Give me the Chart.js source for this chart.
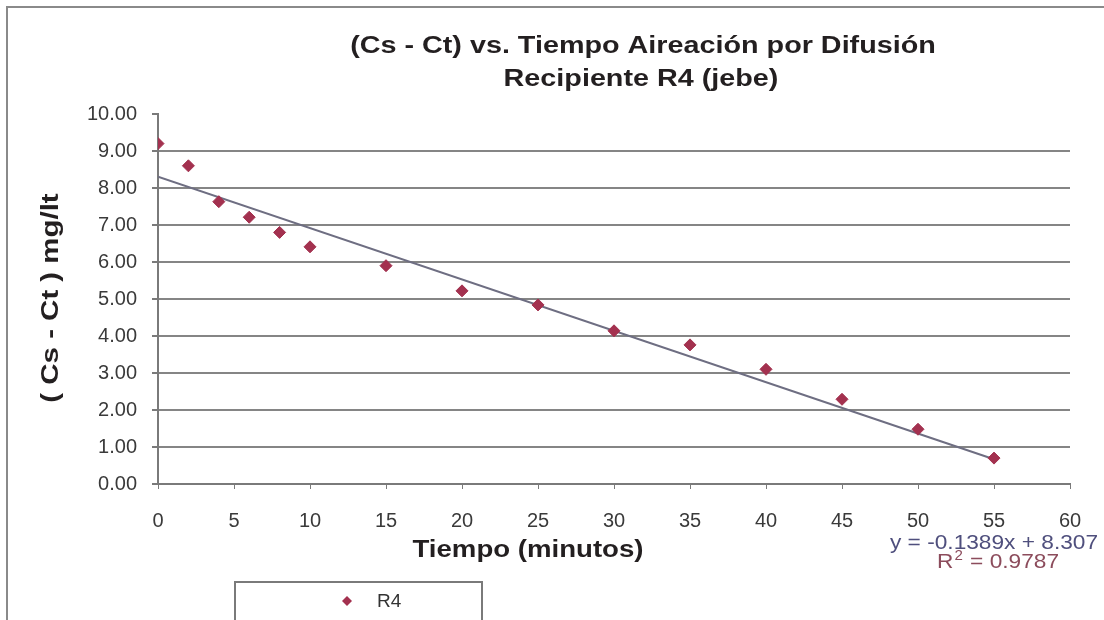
<!DOCTYPE html>
<html>
<head>
<meta charset="utf-8">
<title>(Cs - Ct) vs. Tiempo - R4</title>
<script src="https://cdn.jsdelivr.net/npm/chart.js@4/dist/chart.umd.min.js"></script>
<style>
  html, body { margin: 0; padding: 0; background: #ffffff; }
  #wrap { position: relative; width: 1104px; height: 620px; }
</style>
</head>
<body>
<div id="wrap"><canvas id="chart" width="1104" height="620"></canvas></div>
<script>
// Data
const tiempo = [0, 2, 4, 6, 8, 10, 15, 20, 25, 30, 35, 40, 45, 50, 55];
const csMenosCt = [9.20, 8.60, 7.63, 7.21, 6.80, 6.41, 5.90, 5.22, 4.84, 4.14, 3.76, 3.10, 2.29, 1.48, 0.70];

// Linear trendline endpoints (as drawn in the picture)
const trendX = [0, 55];
const trendY = [8.307, 0.668];

const titleLines = ['(Cs - Ct) vs. Tiempo Aireación por Difusión', 'Recipiente R4 (jebe)'];
const xTitle = 'Tiempo (minutos)';
const yTitle = '( Cs - Ct ) mg/lt';
const equationText = 'y = -0.1389x + 8.307';
const r2Text = '0.9787';
const seriesName = 'R4';

const FONT = '"Liberation Sans", Arial, Helvetica, sans-serif';
const pointColor = '#a3314f';

// the original lettering is a bit wider than Arial, so stretch it
function wideText(c, text, x, y, sx, angle) {
  c.save();
  c.translate(x, y);
  if (angle) c.rotate(angle);
  c.scale(sx, 1);
  c.fillText(text, 0, 0);
  c.restore();
}

// Draws the frame, titles, trendline label and the legend box
const decorPlugin = {
  id: 'decor',
  beforeDraw(chart) {
    const c = chart.ctx;
    c.save();
    c.fillStyle = '#ffffff';
    c.fillRect(0, 0, chart.width, chart.height);
    c.restore();
  },
  afterDraw(chart) {
    const c = chart.ctx;
    c.save();

    // outer chart frame
    c.strokeStyle = '#8a8a8a';
    c.lineWidth = 2;
    c.strokeRect(7, 7, 1110, 630);

    // title
    c.fillStyle = '#231f20';
    c.font = 'bold 23px ' + FONT;
    c.textAlign = 'center';
    c.textBaseline = 'middle';
    wideText(c, titleLines[0], 643, 47, 1.25);
    wideText(c, titleLines[1], 641, 80, 1.25);

    // x axis title
    wideText(c, xTitle, 528, 551, 1.2);

    // y axis title
    wideText(c, yTitle, 52, 298, 1.28, -Math.PI / 2);

    // trendline equation
    c.font = '21px ' + FONT;
    c.fillStyle = '#4f4f7d';
    wideText(c, equationText, 994, 543, 1.08);
    c.fillStyle = '#8c4c5c';
    c.textAlign = 'left';
    let x = 937;
    wideText(c, 'R', x, 562, 1.08);
    x += c.measureText('R').width * 1.08 + 1;
    c.font = '14px ' + FONT;
    wideText(c, '2', x, 556, 1.08);
    x += c.measureText('2').width * 1.08 + 1;
    c.font = '21px ' + FONT;
    wideText(c, ' = ' + r2Text, x, 562, 1.08);

    // legend box
    c.strokeStyle = '#7a7a7a';
    c.lineWidth = 2;
    c.strokeRect(235, 582, 247, 50);
    c.fillStyle = pointColor;
    c.beginPath();
    c.moveTo(347, 596);
    c.lineTo(352, 601);
    c.lineTo(347, 606);
    c.lineTo(342, 601);
    c.closePath();
    c.fill();
    c.fillStyle = '#333333';
    c.font = '19px ' + FONT;
    c.textAlign = 'left';
    c.fillText(seriesName, 377, 602);

    c.restore();
  }
};

const ctx = document.getElementById('chart');
new Chart(ctx, {
  type: 'scatter',
  data: {
    datasets: [
      {
        label: 'Tendencia',
        type: 'line',
        data: trendX.map((x, i) => ({ x: x, y: trendY[i] })),
        borderColor: '#6e6e82',
        borderWidth: 2,
        pointRadius: 0,
        fill: false,
        order: 1
      },
      {
        label: seriesName,
        data: tiempo.map((t, i) => ({ x: t, y: csMenosCt[i] })),
        backgroundColor: pointColor,
        borderColor: pointColor,
        pointStyle: 'rectRot',
        pointRadius: 6,
        pointHoverRadius: 6,
        order: 0
      }
    ]
  },
  options: {
    responsive: false,
    animation: false,
    events: [],
    layout: { padding: { left: 0, top: 114, right: 34, bottom: 0 } },
    plugins: {
      legend: { display: false },
      title: { display: false },
      tooltip: { enabled: false }
    },
    scales: {
      x: {
        type: 'linear',
        min: 0,
        max: 60,
        afterFit(scale) { scale.height = 136; },
        ticks: {
          stepSize: 5,
          color: '#3a3a3a',
          font: { family: FONT, size: 20 },
          padding: 20
        },
        grid: {
          drawOnChartArea: false,
          drawTicks: true,
          tickLength: 5,
          tickColor: '#7a7a7a'
        },
        border: { display: true, color: '#7a7a7a', width: 2 }
      },
      y: {
        min: 0,
        max: 10,
        afterFit(scale) { scale.width = 158; },
        ticks: {
          stepSize: 1,
          color: '#3a3a3a',
          font: { family: FONT, size: 20 },
          padding: 15,
          callback: v => v.toFixed(2)
        },
        grid: {
          color: c => (c.tick && c.tick.value === 10) ? 'rgba(0,0,0,0)' : '#858585',
          lineWidth: 2,
          tickLength: 6,
          tickColor: '#7a7a7a'
        },
        border: { display: true, color: '#7a7a7a', width: 2 }
      }
    }
  },
  plugins: [decorPlugin]
});
</script>
</body>
</html>
